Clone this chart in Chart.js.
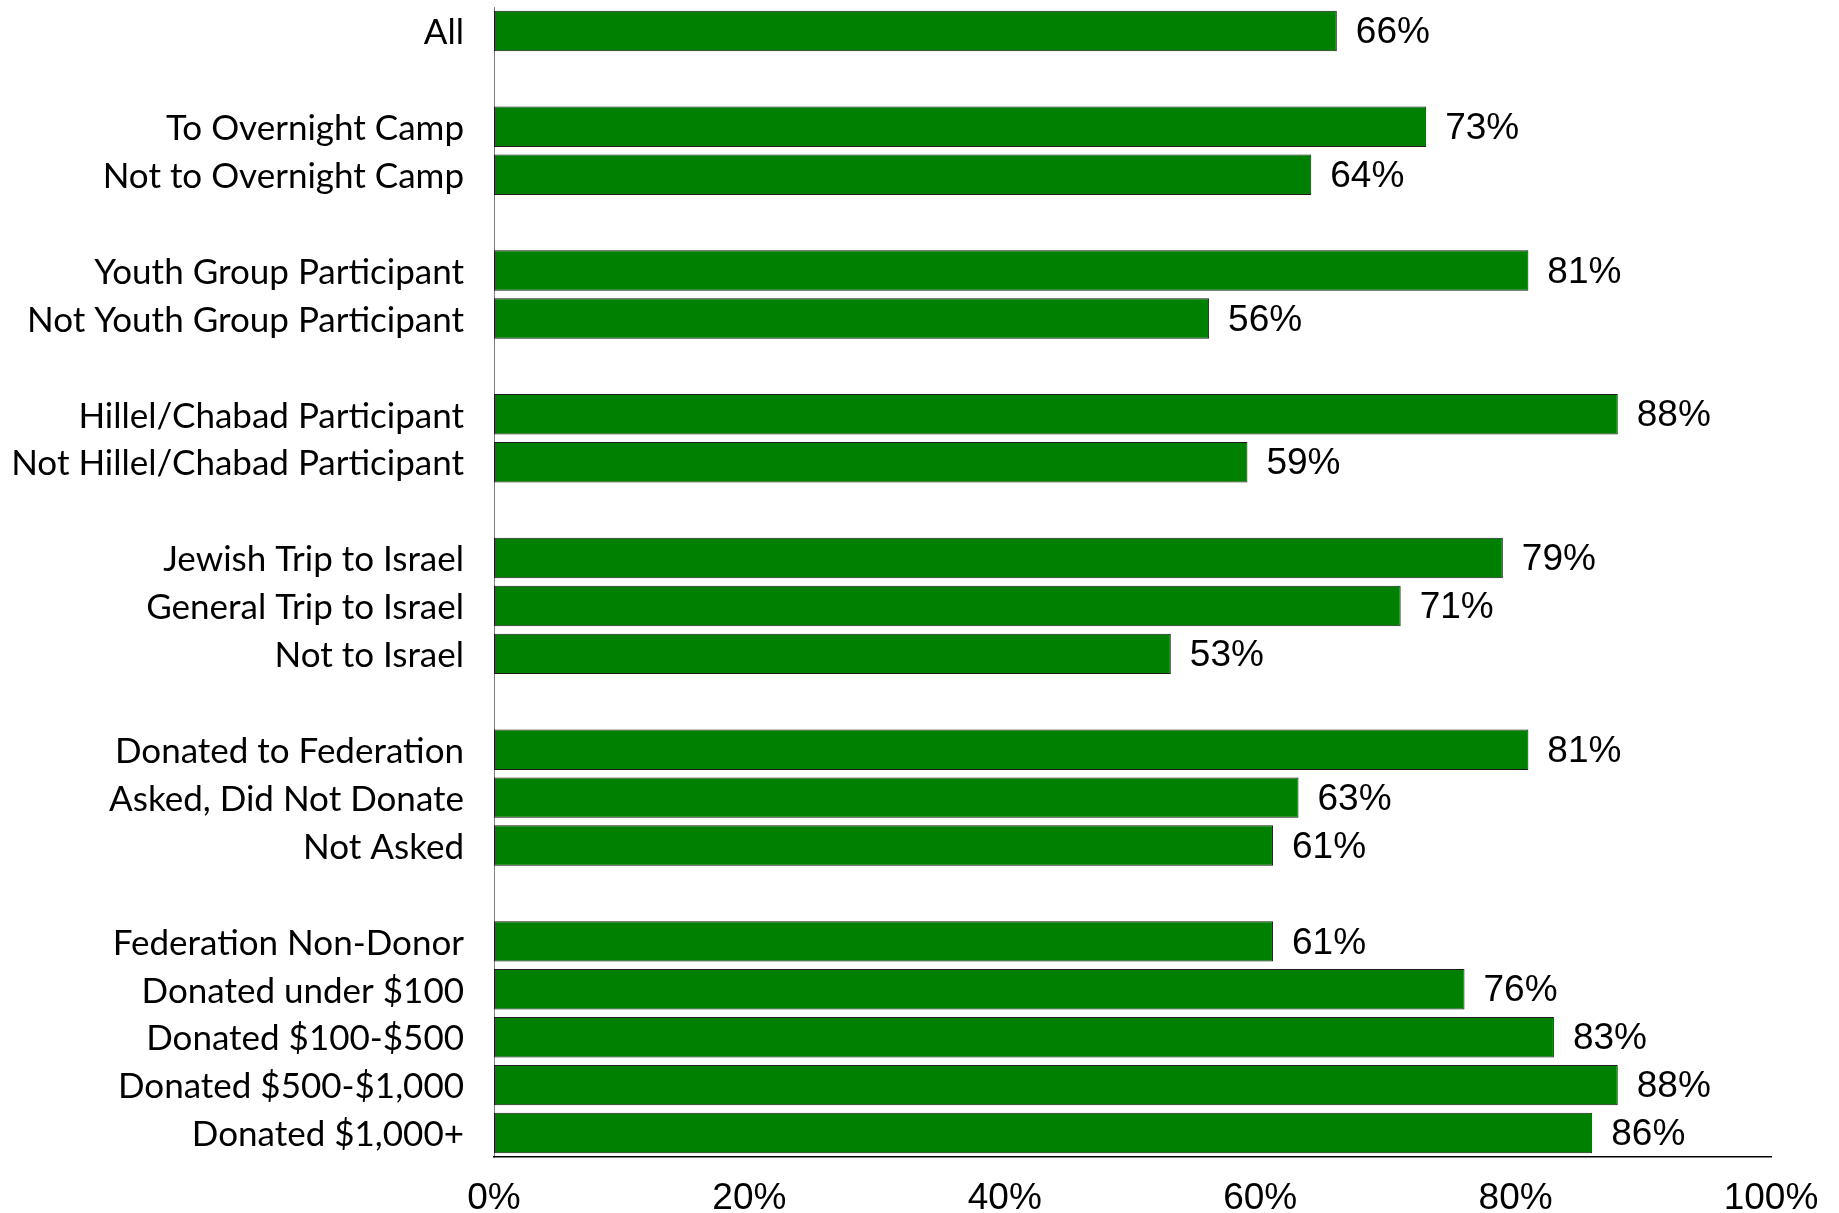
<!DOCTYPE html>
<html>
<head>
<meta charset="utf-8">
<script src="https://cdn.jsdelivr.net/npm/chart.js@4/dist/chart.umd.min.js"></script>
<style>
  html, body { margin: 0; padding: 0; background: #fff; }
  #wrap { width: 1839px; height: 1213px; }
</style>
</head>
<body>
<div id="wrap"><canvas id="chart"></canvas></div>
<script>
// empty strings are the spacer rows between groups
const categories = [
  "All", "",
  "To Overnight Camp", "Not to Overnight Camp", "",
  "Youth Group Participant", "Not Youth Group Participant", "",
  "Hillel/Chabad Participant", "Not Hillel/Chabad Participant", "",
  "Jewish Trip to Israel", "General Trip to Israel", "Not to Israel", "",
  "Donated to Federation", "Asked, Did Not Donate", "Not Asked", "",
  "Federation Non-Donor", "Donated under $100", "Donated $100-$500",
  "Donated $500-$1,000", "Donated $1,000+"
];
const values = [
  66, null,
  73, 64, null,
  81, 56, null,
  88, 59, null,
  79, 71, 53, null,
  81, 63, 61, null,
  61, 76, 83, 88, 86
];
const xTicks = [0, 20, 40, 60, 80, 100];

const valueLabels = {
  id: "valueLabels",
  afterDatasetsDraw(chart) {
    const ctx = chart.ctx;
    const meta = chart.getDatasetMeta(0);
    ctx.save();
    ctx.font = "37px 'Liberation Sans', Arial, sans-serif";
    ctx.fillStyle = "#000";
    ctx.textAlign = "left";
    ctx.textBaseline = "middle";
    meta.data.forEach((bar, i) => {
      if (values[i] == null) return;
      ctx.fillText(values[i] + "%", bar.x + 19, bar.y + 2);
    });
    ctx.restore();
  }
};

new Chart(document.getElementById("chart"), {
  type: "bar",
  data: {
    labels: categories,
    datasets: [
      {
        data: values,
        backgroundColor: "#008000",
        borderColor: "#1a1a1a",
        borderWidth: 1,
        borderSkipped: false,
        barPercentage: 0.845,
        categoryPercentage: 1.0,
      },
    ],
  },
  options: {
    indexAxis: "y",
    responsive: true,
    maintainAspectRatio: false,
    animation: false,
    layout: { padding: { top: 7, right: 68, bottom: 0, left: 0 } },
    plugins: {
      legend: { display: false },
      tooltip: { enabled: false },
    },
    scales: {
      y: {
        afterFit: (s) => {
          s.width = 494;
          s.paddingTop = 0;
          s.paddingBottom = 0;
        },
        grid: { display: false, drawTicks: false },
        border: { display: true, color: "#7f7f7f", width: 1 },
        ticks: {
          padding: 30,
          labelOffset: 2,
          color: "#000",
          autoSkip: false,
          font: { family: "Lato, 'Open Sans', sans-serif", size: 35 },
        },
      },
      x: {
        min: 0,
        max: 100,
        afterFit: (s) => { s.height = 56; },
        afterBuildTicks: (s) => { s.ticks = xTicks.map((v) => ({ value: v })); },
        grid: { display: false, drawTicks: false },
        border: { display: true, color: "#000", width: 1.5 },
        ticks: {
          padding: 20,
          color: "#000",
          maxRotation: 0,
          callback: (v) => v + "%",
          font: { family: "'Liberation Sans', Arial, sans-serif", size: 37 },
        },
      },
    },
  },
  plugins: [valueLabels],
});
</script>
</body>
</html>
